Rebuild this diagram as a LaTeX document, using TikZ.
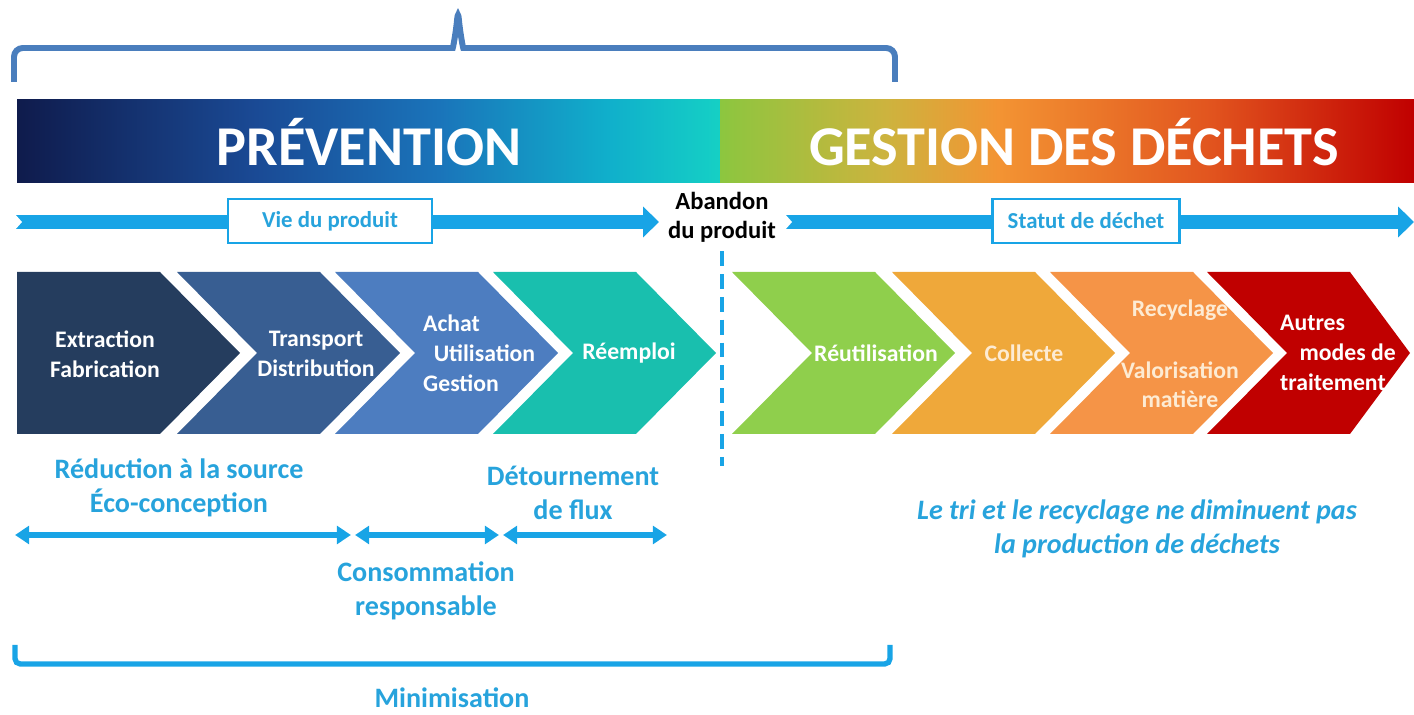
\documentclass[tikz,border=0pt]{standalone}
\usepackage{fontspec}
\setmainfont{Carlito}
\usepackage{tikz}
\usetikzlibrary{arrows.meta, positioning}

\definecolor{prevA}{HTML}{0F1B4C}
\definecolor{prevB}{HTML}{1A4A95}
\definecolor{prevC}{HTML}{1A74BA}
\definecolor{prevD}{HTML}{10AFCB}
\definecolor{prevE}{HTML}{15D0C5}
\definecolor{gestA}{HTML}{8CC63F}
\definecolor{gestB}{HTML}{CDB33E}
\definecolor{gestC}{HTML}{F39433}
\definecolor{gestD}{HTML}{E2561F}
\definecolor{gestE}{HTML}{C00000}
\definecolor{chevA}{HTML}{253D5E}
\definecolor{chevB}{HTML}{385E92}
\definecolor{chevC}{HTML}{4D7DC0}
\definecolor{chevD}{HTML}{19BFAE}
\definecolor{chevE}{HTML}{8FCF4C}
\definecolor{chevF}{HTML}{EFA83A}
\definecolor{chevG}{HTML}{F59447}
\definecolor{chevH}{HTML}{C00000}
\definecolor{arrowblue}{HTML}{18A4E6}
\definecolor{textblue}{HTML}{27A3DC}
\definecolor{braceblue}{HTML}{4A7EBD}
\definecolor{cream}{HTML}{FDEBD3}

\pgfdeclarehorizontalshading{prevshade}{100bp}{color(0bp)=(prevA); color(25bp)=(prevA); color(42bp)=(prevB); color(55bp)=(prevC); color(67bp)=(prevD); color(75bp)=(prevE); color(100bp)=(prevE)}
\pgfdeclarehorizontalshading{gestshade}{100bp}{color(0bp)=(gestA); color(25bp)=(gestA); color(37bp)=(gestB); color(45bp)=(gestC); color(60bp)=(gestD); color(75bp)=(gestE); color(100bp)=(gestE)}

\begin{document}
\begin{tikzpicture}[x=0.02cm, y=-0.02cm,
    every node/.style={align=center, text=white, font=\bfseries},
    title/.style={font=\bfseries\fontsize{32}{38}\selectfont},
    chevtext/.style={font=\bfseries\fontsize{13.5}{17}\selectfont},
    bluetext/.style={text=textblue, font=\bfseries\fontsize{16}{19}\selectfont},
    band/.style={draw=arrowblue, line width=8.5pt, -{Triangle[length=9pt,width=17pt]}},
    span/.style={draw=arrowblue, line width=3pt, {Triangle[length=8pt,width=10pt]}-{Triangle[length=8pt,width=10pt]}},
    phase/.style={draw=arrowblue, line width=1.2pt, fill=white, text=textblue, font=\bfseries\fontsize{13}{15}\selectfont, minimum height=0.88cm}]
    \useasboundingbox (0,0) rectangle (1414,715);

    \draw[braceblue, line width=3.4pt, rounded corners=5pt] (14,82) -- (14,48) -- (444,48) .. controls (453,48) and (456,32) .. (458,10) .. controls (460,32) and (463,48) .. (472,48) -- (895,48) -- (895,82);

    \shade[shading=prevshade] (17,100) rectangle (720,183);
    \shade[shading=gestshade] (720,100) rectangle (1414,183);
    \node[title] (prev) at (369,142) {PRÉVENTION};
    \node[title] (gest) at (1074,142) {GESTION DES DÉCHETS};

    \node[text=black, font=\bfseries\fontsize{14}{16.5}\selectfont, inner sep=5pt] (abandon) at (722,217) {Abandon\\du produit};
    \coordinate (vstart) at (15,222);
    \coordinate (vend) at (1414,222);
    \coordinate (cut) at (722,466);
    \draw[band] (vstart) -- (vstart -| abandon.west);
    \draw[band] (vstart -| abandon.east) -- (vend);
    \fill[white] (vstart) ++(-1,-9) -- ++(8,9) -- ++(-8,9) -- cycle;
    \fill[white] (vstart -| abandon.east) ++(-1,-9) -- ++(8,9) -- ++(-8,9) -- cycle;
    \node[phase, minimum width=4.08cm] (vie) at (330,221) {Vie du produit};
    \node[phase, minimum width=3.74cm] (statut) at (1086,221) {Statut de déchet};
    \draw[arrowblue, line width=2.3pt, dash pattern=on 8.5pt off 4.5pt] (abandon.south) -- (cut);

    \foreach \lx/\col/\nt/\tip in {17/chevA/0/80, 177/chevB/1/80, 335/chevC/1/80, 493/chevD/1/80, 732/chevE/1/80, 892/chevF/1/80, 1050/chevG/1/80, 1207/chevH/1/60}
        \fill[\col] (\lx,272) -- ++(143,0) -- ++(\tip,81) -- ++(-\tip,81) -- ++(-143,0) -- ++(80*\nt,-81) -- cycle;

    \node[chevtext] (extr) at (105,354) {Extraction\\Fabrication};
    \node[chevtext] (transp) at (316,354) {Transport\\Distribution};
    \node[chevtext, anchor=west, align=left] (achat) at (417,353) {Achat\\\hspace{6pt}Utilisation\\Gestion};
    \node[chevtext] (reempl) at (629,353) {Réemploi};
    \node[chevtext] (reutil) at (876,353) {Réutilisation};
    \node[chevtext, text=cream] (coll) at (1024,353) {Collecte};
    \node[chevtext, text=cream] (recyc) at (1180,354) {Recyclage\\[18pt]Valorisation\\matière};
    \node[chevtext, anchor=west, align=left] (autres) at (1274,353) {Autres\\\hspace{11pt}modes de\\traitement};

    \coordinate (s1) at (15,535);
    \coordinate (s2) at (351,535);
    \coordinate (s3) at (355,535);
    \coordinate (s4) at (499,535);
    \coordinate (s5) at (503,535);
    \coordinate (s6) at (667,535);
    \draw[span] (s1) -- (s2);
    \draw[span] (s3) -- (s4);
    \draw[span] (s5) -- (s6);

    \node[bluetext] (reduc) at (179,488) {Réduction à la source\\Éco-conception};
    \node[bluetext] (detour) at (573,493) {Détournement\\de flux};
    \node[bluetext] (conso) at (426,591) {Consommation\\responsable};
    \draw[arrowblue, line width=3pt, rounded corners=3pt] (15,645) -- (15,664) -- (890,664) -- (890,645);
    \node[bluetext] (mini) at (452,698) {Minimisation};
    \node[bluetext, font=\bfseries\itshape\fontsize{16}{19}\selectfont] (tri) at (1137,529) {Le tri et le recyclage ne diminuent pas\\la production de déchets};
\end{tikzpicture}
\end{document}
